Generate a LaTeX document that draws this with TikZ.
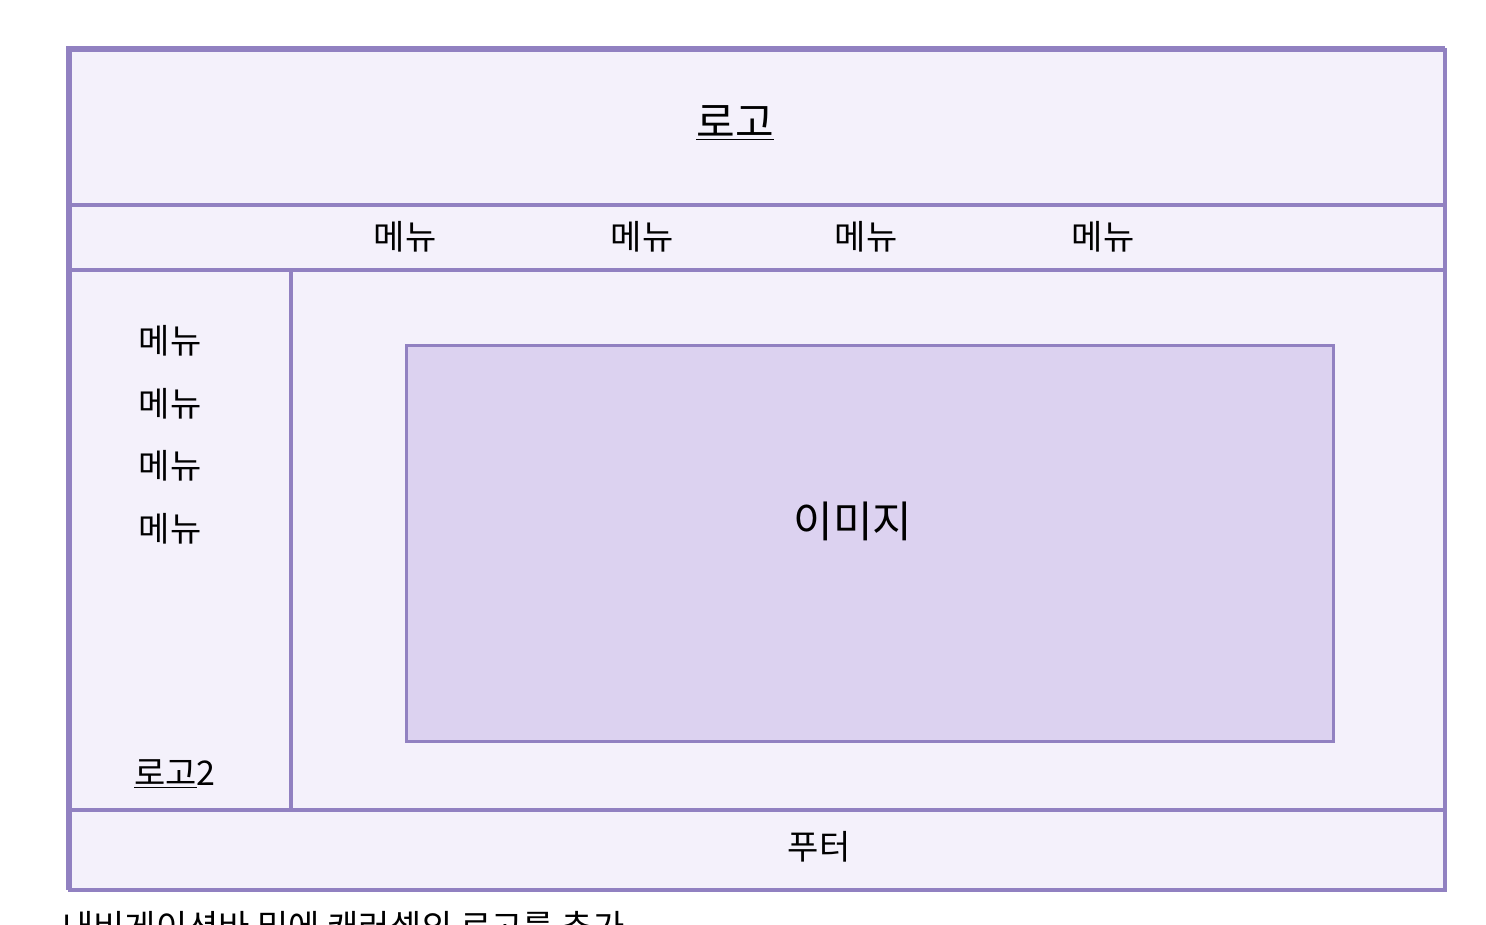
\documentclass[tikz,border=0pt]{standalone}
\usepackage{fontspec}
\newfontfamily\kr{Noto Sans CJK KR}
\definecolor{bd}{HTML}{9181C1}
\definecolor{bg}{HTML}{F4F1FB}
\definecolor{img}{HTML}{DCD2F0}
\begin{document}
\begin{tikzpicture}[x=1pt,y=-1pt,
  region/.style={draw=bd,fill=bg,line width=3.5pt},
  txt/.style={font=\kr\fontsize{34}{38}\selectfont,inner sep=0pt,anchor=center},
]
\useasboundingbox (0,0) rectangle (1486,924);
\fill[white] (0,0) rectangle (1486,924);
\draw[region] (68,48) rectangle (1443,888);
\node[region,minimum width=1375pt,minimum height=155pt,anchor=north west] (header) at (68,48) {};
\node[region,minimum width=1375pt,minimum height=65pt,anchor=north west] (nav) at (68,203) {};
\node[region,minimum width=221pt,minimum height=540pt,anchor=north west] (side) at (68,268) {};
\node[region,minimum width=1154pt,minimum height=540pt,anchor=north west] (main) at (289,268) {};
\node[region,minimum width=1375pt,minimum height=80pt,anchor=north west] (footer) at (68,808) {};
\node[draw=bd,fill=img,line width=3pt,minimum width=927pt,minimum height=396pt,anchor=north west] (image) at (405,344) {};
\node[txt,font=\kr\fontsize{42}{46}\selectfont] (logo) at (735,123) {\underline{로고}};
\node[txt] (m1) at (405,237) {메뉴};
\node[txt] (m2) at (642,237) {메뉴};
\node[txt] (m3) at (866,237) {메뉴};
\node[txt] (m4) at (1103,237) {메뉴};
\node[txt] (s1) at (170,341) {메뉴};
\node[txt] (s2) at (170,404) {메뉴};
\node[txt] (s3) at (170,466) {메뉴};
\node[txt] (s4) at (170,529) {메뉴};
\node[txt] (logo2) at (175,774) {\underline{로고}2};
\node[txt,font=\kr\fontsize{43}{47}\selectfont] (imgtxt) at (853,521) {이미지};
\node[txt] (foot) at (819,847) {푸터};
\node[txt,anchor=north west] (note) at (62,911) {내비게이션바 밑에 캐러셀의 로고를 추가};
\end{tikzpicture}
\end{document}
